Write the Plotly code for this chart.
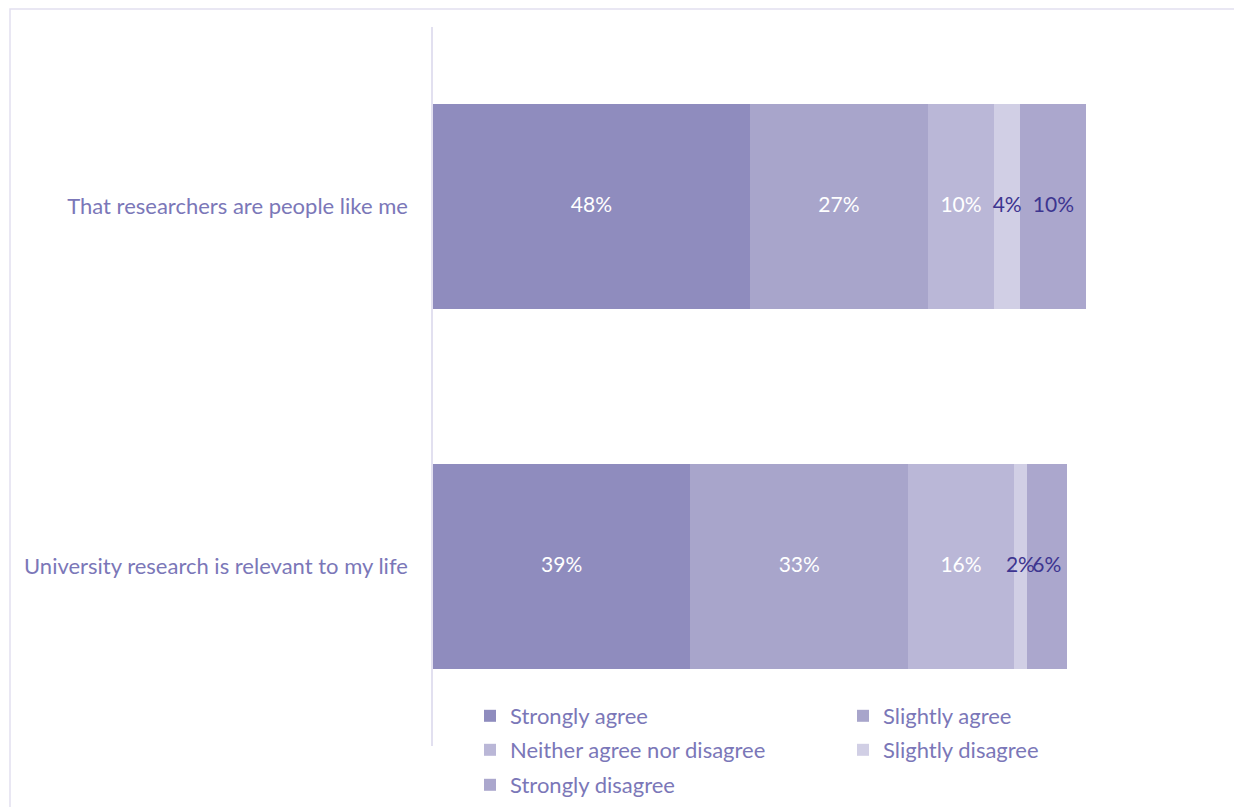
import plotly.graph_objects as go

# Survey statements (bottom to top) and response shares in percent
statements = ["University research is relevant to my life",
              "That researchers are people like me"]
responses = ["Strongly agree", "Slightly agree", "Neither agree nor disagree",
             "Slightly disagree", "Strongly disagree"]
strongly_agree = [39, 48]
slightly_agree = [33, 27]
neither = [16, 10]
slightly_disagree = [2, 4]
strongly_disagree = [6, 10]

series = [strongly_agree, slightly_agree, neither, slightly_disagree, strongly_disagree]
colors = ["#8f8cbe", "#a8a5cb", "#bab7d7", "#d1cfe5", "#aba7cd"]
label_colors = ["#ffffff", "#ffffff", "#ffffff", "#3d3590", "#3d3590"]

W, H = 1234, 807
L, R, T, B = 433, 1, 27, 61
plot_w = W - L - R
px_per_pct = 6.6
x_max = plot_w / px_per_pct

FONT = "Lato, Calibri, 'Open Sans', sans-serif"
TEXT_COLOR = "#7b77b8"

# Legend slots: two columns, three rows (container pixel positions)
legend_slots = [(470, 716), (843, 716), (470, 750), (843, 750), (470, 785)]
legend_names = ["legend", "legend2", "legend3", "legend4", "legend5"]

fig = go.Figure()

# Stacked bar segments
for name, vals, col, lg in zip(responses, series, colors, legend_names):
    fig.add_trace(go.Bar(
        y=statements, x=vals, name=name, orientation="h",
        marker=dict(color=col, line=dict(width=0)),
        hoverinfo="skip", legend=lg,
    ))

# Value labels drawn on top of all segments, centred in each segment
running = [0] * len(statements)
for vals, lcol in zip(series, label_colors):
    mids = [r + v / 2 for r, v in zip(running, vals)]
    running = [r + v for r, v in zip(running, vals)]
    fig.add_trace(go.Scatter(
        x=mids, y=statements, mode="text",
        text=[f"{v}%" for v in vals], textposition="middle center",
        textfont=dict(family=FONT, size=21, color=lcol),
        showlegend=False, hoverinfo="skip", cliponaxis=False,
    ))

layout_legends = {}
for lg, (lx, ly) in zip(legend_names, legend_slots):
    layout_legends[lg] = dict(
        xref="container", yref="container",
        x=lx / W, y=1 - ly / H, xanchor="left", yanchor="middle",
        bgcolor="rgba(0,0,0,0)", borderwidth=0,
        font=dict(family=FONT, size=22, color=TEXT_COLOR),
        itemclick=False, itemdoubleclick=False,
    )

fig.update_layout(
    width=W, height=H,
    margin=dict(l=L, r=R, t=T, b=B, pad=0, autoexpand=False),
    paper_bgcolor="white", plot_bgcolor="white",
    barmode="stack", bargap=0.43,
    showlegend=True,
    xaxis=dict(range=[0, x_max], showgrid=False, zeroline=False,
               showticklabels=False, showline=False, fixedrange=True),
    yaxis=dict(categoryorder="array", categoryarray=statements,
               range=[-0.5, 1.5], showgrid=False, zeroline=False,
               showline=True, linecolor="#e2e0f0", linewidth=1.5,
               ticks="", ticklabelstandoff=19, automargin=False,
               tickfont=dict(family=FONT, size=22, color=TEXT_COLOR),
               fixedrange=True),
    **layout_legends,
)

# Light frame around the chart area
plot_h = H - T - B
fig.add_shape(type="rect", xref="paper", yref="paper",
              x0=(10 - L) / plot_w, x1=(1240 - L) / plot_w,
              y0=(H - B - 820) / plot_h, y1=(H - B - 9) / plot_h,
              line=dict(color="#e2e0f0", width=1.5), layer="below")

fig.write_html("out.html", config={"displayModeBar": False})
